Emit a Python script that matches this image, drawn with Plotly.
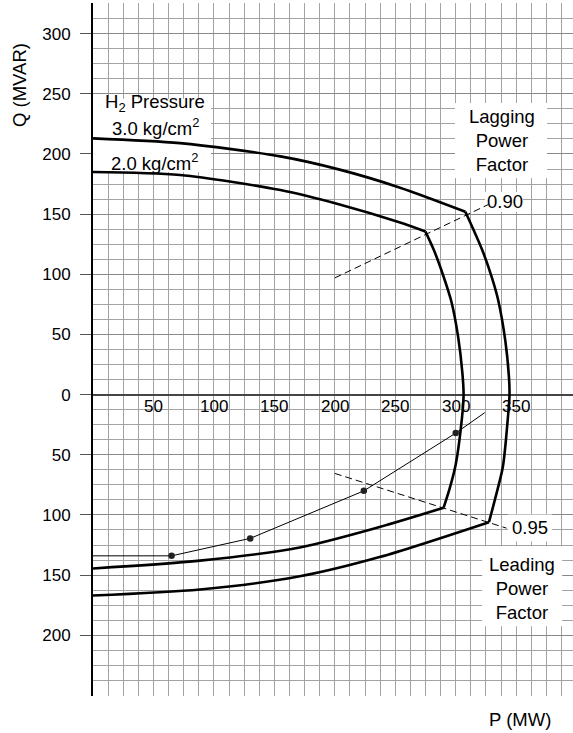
import plotly.graph_objects as go

# ---- data ----
# 3.0 kg/cm2 capability curve: field limit (top), armature limit (right), end-region limit (bottom)
p30_top = [0, 72, 155, 204, 254, 308]
q30_top = [213, 209, 198, 187, 172, 152]
p30_right = [308, 322, 330, 335, 341, 344, 344.5, 343, 339, 333, 327.5]
q30_right = [152, 120, 97, 79, 45, 15, 0, -21, -60, -85, -106]
p30_bot = [327.5, 237, 171, 88.5, 0]
q30_bot = [-106, -135, -151, -162, -167]

# 2.0 kg/cm2 capability curve
p20_top = [0, 72, 155, 204, 254, 275]
q20_top = [185, 182.5, 170, 158, 143, 135.5]
p20_right = [275, 282, 290, 296.5, 302, 305.5, 306.5, 305, 300, 295, 290]
q20_right = [135.5, 120, 98, 77, 48, 18, 0, -21, -58, -78, -94]
p20_bot = [290, 237, 171, 88.5, 0]
q20_bot = [-94, -110, -127, -138, -144.5]

# operating line with measured points
p_op = [0, 65, 130, 224, 300, 324]
q_op = [-134, -134, -119.5, -80, -32, -15]
p_pts = [65, 130, 224, 300]
q_pts = [-134, -119.5, -80, -32]

# power-factor lines
p_pf90 = [200, 327]
q_pf90 = [97, 158]
p_pf95 = [200, 342]
q_pf95 = [-65.5, -111]

x_labels = [50, 100, 150, 200, 250, 300, 350]
y_ticks = [-200, -150, -100, -50, 0, 50, 100, 150, 200, 250, 300]
y_ticktext = [str(abs(v)) for v in y_ticks]

FONT = "Liberation Sans, Arial, Helvetica, sans-serif"

fig = go.Figure()

def curve(xs, ys, smooth=True, width=2.6):
    fig.add_trace(go.Scatter(
        x=xs, y=ys, mode="lines",
        line=dict(color="black", width=width,
                  shape="spline" if smooth else "linear", smoothing=0.8),
        hoverinfo="skip", showlegend=False))

for xs, ys in [(p30_top, q30_top), (p30_right, q30_right), (p30_bot, q30_bot),
               (p20_top, q20_top), (p20_right, q20_right), (p20_bot, q20_bot)]:
    curve(xs, ys)

# power factor dashed lines
for xs, ys in [(p_pf90, q_pf90), (p_pf95, q_pf95)]:
    fig.add_trace(go.Scatter(x=xs, y=ys, mode="lines",
                             line=dict(color="black", width=1, dash="7px,4px"),
                             hoverinfo="skip", showlegend=False))

# operating line
fig.add_trace(go.Scatter(x=p_op, y=q_op, mode="lines",
                         line=dict(color="black", width=1),
                         hoverinfo="skip", showlegend=False))
fig.add_trace(go.Scatter(x=p_pts, y=q_pts, mode="markers",
                         marker=dict(color="#222", size=6.5),
                         hoverinfo="skip", showlegend=False))

# white label boxes (between gridlines and traces)
boxes = [
    (0, 97.6, 185, 246),        # H2 pressure
    (299.4, 375.5, 180, 242.3),  # Lagging Power Factor
    (324.2, 355.7, 151.9, 168.5),  # 0.90
    (343.3, 379.7, -122, -99.6),   # 0.95
    (321.8, 388, -192.5, -126),    # Leading Power Factor
]
for x0, x1, y0, y1 in boxes:
    fig.add_shape(type="rect", x0=x0, x1=x1, y0=y0, y1=y1, xref="x", yref="y",
                  fillcolor="white", line=dict(width=0), layer="between")

ann_font = dict(family=FONT, size=18.5, color="black")
texts = [
    ("H<sub>2</sub> Pressure", 51.3, 242.3),
    ("3.0 kg/cm<sup>2</sup>", 52, 222.4),
    ("2.0 kg/cm<sup>2</sup>", 50.5, 193.4),
    ("Lagging<br>Power<br>Factor", 338.3, 211.2),
    ("0.90", 340.8, 160.2),
    ("0.95", 361.5, -110.4),
    ("Leading<br>Power<br>Factor", 354.8, -161.5),
]
for t, x, y in texts:
    fig.add_annotation(text=t, x=x, y=y, xref="x", yref="y", showarrow=False,
                       font=ann_font, xanchor="center", yanchor="middle")

# x tick labels drawn inside, below the zero line
for v in x_labels:
    fig.add_annotation(text=str(v), x=v, y=-9.5, xref="x", yref="y", showarrow=False,
                       font=dict(family=FONT, size=17, color="black"),
                       xanchor="center", yanchor="middle")

# axis titles
fig.add_annotation(text="Q (MVAR)", x=-0.152, y=0.8817, xref="paper", yref="paper",
                   showarrow=False, textangle=-90, font=ann_font,
                   xanchor="center", yanchor="middle")
fig.add_annotation(text="P (MW)", x=0.8896, y=-0.0346, xref="paper", yref="paper",
                   showarrow=False, font=ann_font, xanchor="center", yanchor="middle")

fig.update_layout(
    width=573, height=733,
    margin=dict(l=93, r=0, t=3, b=37),
    paper_bgcolor="white", plot_bgcolor="white",
    font=dict(family=FONT, size=17, color="black"),
    showlegend=False,
    xaxis=dict(range=[0, 397], tickmode="linear", tick0=0, dtick=12.5,
               showticklabels=False, ticks="", showgrid=True,
               gridcolor="#a3a3a3", gridwidth=1, zeroline=False, showline=False,
               fixedrange=True),
    yaxis=dict(range=[-250.5, 325.5], tickmode="array", tickvals=y_ticks,
               ticktext=y_ticktext, ticks="outside", ticklen=11, tickcolor="#555",
               tickwidth=1.2, ticklabelstandoff=6,
               tickfont=dict(family=FONT, size=17, color="black"),
               showgrid=True, gridcolor="#888888", gridwidth=1,
               minor=dict(tickmode="linear", tick0=0, dtick=12.5, showgrid=True,
                          gridcolor="#a3a3a3", gridwidth=1, ticks=""),
               zeroline=True, zerolinecolor="#444", zerolinewidth=1.6,
               showline=True, linecolor="black", linewidth=2, fixedrange=True),
)

fig.write_html(
    "out.html",
    config={"displayModeBar": False},
    post_script="document.body.style.margin='0';document.body.style.padding='0';",
)
